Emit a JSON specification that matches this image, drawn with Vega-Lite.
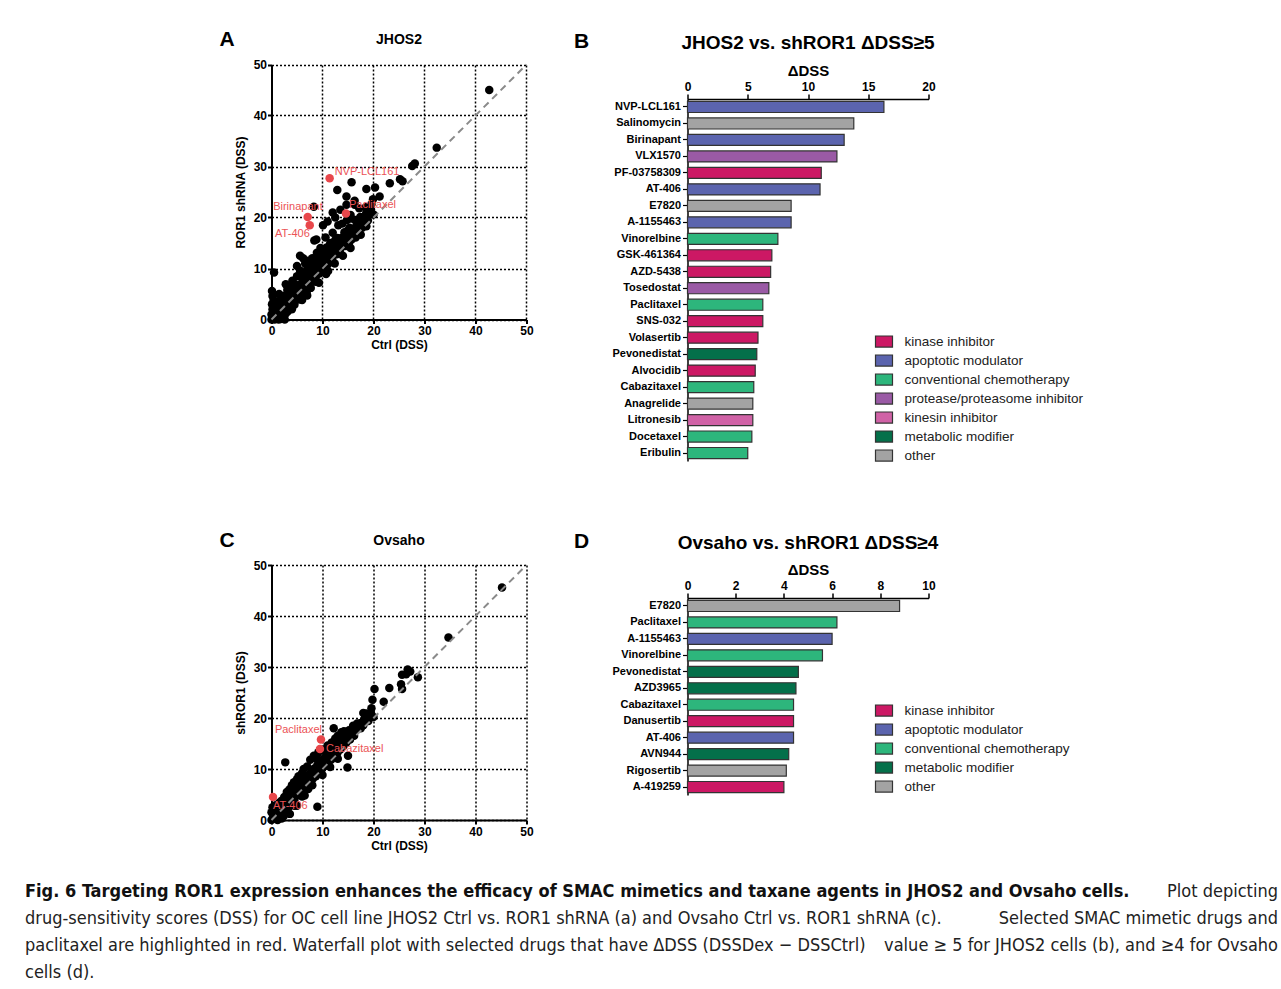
{
  "$schema": "https://vega.github.io/schema/vega-lite/v6.json",
  "background": "white",
  "padding": {"left": 25, "top": 29, "right": 0, "bottom": 0},
  "config": {"view": {"stroke": null}, "font": "Liberation Sans"},
  "datasets": {
    "jhos2": [
      {"ctrl":0,"sh":0},{"ctrl":0.3,"sh":0.5},{"ctrl":0.5,"sh":1.2},{"ctrl":0.2,"sh":2.0},{"ctrl":0.1,"sh":3.0},{"ctrl":0.4,"sh":3.8},{"ctrl":0.8,"sh":0.4},{"ctrl":1.2,"sh":0.2},{"ctrl":1.5,"sh":1.0},{"ctrl":1.0,"sh":1.8},{"ctrl":0.7,"sh":2.6},{"ctrl":1.8,"sh":0.1},{"ctrl":2.2,"sh":0.5},{"ctrl":2.0,"sh":1.6},{"ctrl":1.6,"sh":2.8},{"ctrl":1.2,"sh":3.4},{"ctrl":2.5,"sh":2.2},{"ctrl":2.8,"sh":1.2},{"ctrl":2.3,"sh":3.5},{"ctrl":3.0,"sh":3.0},{"ctrl":0.2,"sh":4.6},{"ctrl":0.0,"sh":1.0},{"ctrl":1.9,"sh":4.5},{"ctrl":2.6,"sh":0.0},{"ctrl":1.4,"sh":0.0},{"ctrl":0.1,"sh":5.6},{"ctrl":0.5,"sh":9.2},
      {"ctrl":3.3,"sh":4.2},{"ctrl":3.6,"sh":2.8},{"ctrl":3.9,"sh":5.0},{"ctrl":4.2,"sh":3.6},{"ctrl":4.4,"sh":5.8},{"ctrl":4.8,"sh":4.4},{"ctrl":4.6,"sh":6.9},{"ctrl":5.1,"sh":5.6},{"ctrl":5.4,"sh":3.9},{"ctrl":5.6,"sh":6.8},{"ctrl":5.9,"sh":5.0},{"ctrl":6.1,"sh":7.5},{"ctrl":6.4,"sh":6.0},{"ctrl":6.7,"sh":8.3},{"ctrl":6.9,"sh":5.4},{"ctrl":7.2,"sh":7.0},{"ctrl":7.5,"sh":8.8},{"ctrl":7.7,"sh":6.2},{"ctrl":3.1,"sh":5.8},{"ctrl":3.5,"sh":6.5},{"ctrl":4.1,"sh":7.6},{"ctrl":5.0,"sh":8.5},{"ctrl":5.0,"sh":10.5},{"ctrl":6.2,"sh":12.0},{"ctrl":2.8,"sh":6.9},{"ctrl":7.0,"sh":4.7},{"ctrl":4.0,"sh":2.0},{"ctrl":6.0,"sh":3.8},
      {"ctrl":8.0,"sh":7.8},{"ctrl":8.2,"sh":9.6},{"ctrl":8.5,"sh":11.0},{"ctrl":8.7,"sh":8.4},{"ctrl":9.0,"sh":10.2},{"ctrl":9.2,"sh":12.4},{"ctrl":9.4,"sh":9.0},{"ctrl":9.7,"sh":11.2},{"ctrl":10.0,"sh":13.0},{"ctrl":10.2,"sh":10.0},{"ctrl":10.5,"sh":12.0},{"ctrl":10.8,"sh":14.1},{"ctrl":11.0,"sh":10.8},{"ctrl":11.3,"sh":12.6},{"ctrl":11.6,"sh":15.0},{"ctrl":11.9,"sh":11.9},{"ctrl":12.2,"sh":13.8},{"ctrl":12.5,"sh":15.6},{"ctrl":12.8,"sh":12.8},{"ctrl":13.0,"sh":14.6},{"ctrl":8.0,"sh":12.0},{"ctrl":8.9,"sh":13.1},{"ctrl":9.6,"sh":14.0},{"ctrl":7.8,"sh":10.8},{"ctrl":11.1,"sh":9.5},{"ctrl":13.1,"sh":18.5},{"ctrl":10.1,"sh":18.5},{"ctrl":8.4,"sh":15.5},{"ctrl":10.6,"sh":16.1},{"ctrl":12.0,"sh":17.0},{"ctrl":9.3,"sh":7.2},{"ctrl":10.7,"sh":8.9},{"ctrl":12.4,"sh":11.0},
      {"ctrl":13.4,"sh":13.2},{"ctrl":13.7,"sh":16.0},{"ctrl":14.0,"sh":15.0},{"ctrl":14.3,"sh":17.1},{"ctrl":14.6,"sh":14.4},{"ctrl":15.0,"sh":16.2},{"ctrl":15.3,"sh":18.0},{"ctrl":15.7,"sh":15.7},{"ctrl":16.0,"sh":17.6},{"ctrl":16.4,"sh":19.5},{"ctrl":16.7,"sh":17.0},{"ctrl":17.0,"sh":18.8},{"ctrl":17.4,"sh":20.1},{"ctrl":17.8,"sh":18.0},{"ctrl":18.2,"sh":19.6},{"ctrl":18.6,"sh":21.0},{"ctrl":18.6,"sh":18.3},{"ctrl":19.0,"sh":20.4},{"ctrl":19.5,"sh":21.6},{"ctrl":20.0,"sh":20.6},{"ctrl":14.8,"sh":19.5},{"ctrl":13.9,"sh":18.8},{"ctrl":16.5,"sh":16.1},{"ctrl":15.5,"sh":20.5},{"ctrl":17.2,"sh":21.8},{"ctrl":16.3,"sh":22.5},{"ctrl":12.5,"sh":20.0},{"ctrl":13.5,"sh":21.5},{"ctrl":14.7,"sh":22.5},{"ctrl":15.6,"sh":19.8},{"ctrl":14.0,"sh":12.5},{"ctrl":15.5,"sh":14.0},{"ctrl":17.5,"sh":16.6},
      {"ctrl":0.6,"sh":0.0},{"ctrl":0.9,"sh":1.2},{"ctrl":1.3,"sh":2.4},{"ctrl":0.4,"sh":1.6},{"ctrl":2.9,"sh":2.2},{"ctrl":3.2,"sh":1.6},{"ctrl":3.4,"sh":3.6},{"ctrl":3.8,"sh":4.3},{"ctrl":4.3,"sh":4.8},{"ctrl":4.5,"sh":2.9},{"ctrl":4.9,"sh":5.4},{"ctrl":5.2,"sh":4.7},{"ctrl":5.3,"sh":6.3},{"ctrl":5.7,"sh":5.9},{"ctrl":6.0,"sh":6.7},{"ctrl":6.3,"sh":7.2},{"ctrl":6.5,"sh":5.2},{"ctrl":6.8,"sh":7.6},{"ctrl":7.1,"sh":6.4},{"ctrl":7.3,"sh":8.2},{"ctrl":7.6,"sh":7.6},{"ctrl":7.9,"sh":9.0},{"ctrl":8.1,"sh":8.5},{"ctrl":8.4,"sh":9.9},{"ctrl":8.6,"sh":7.4},{"ctrl":8.8,"sh":10.7},{"ctrl":9.1,"sh":9.4},{"ctrl":9.3,"sh":11.4},{"ctrl":9.5,"sh":10.1},{"ctrl":9.8,"sh":12.3},{"ctrl":10.0,"sh":11.0},{"ctrl":10.3,"sh":12.9},{"ctrl":10.4,"sh":10.6},{"ctrl":10.6,"sh":13.4},{"ctrl":10.9,"sh":11.6},{"ctrl":11.2,"sh":13.9},{"ctrl":11.4,"sh":11.2},{"ctrl":11.7,"sh":13.5},{"ctrl":12.0,"sh":12.6},{"ctrl":12.3,"sh":14.8},{"ctrl":12.6,"sh":13.9},{"ctrl":12.9,"sh":16.0},{"ctrl":13.2,"sh":14.0},{"ctrl":13.5,"sh":15.2},{"ctrl":13.8,"sh":14.2},{"ctrl":14.2,"sh":16.3},{"ctrl":14.5,"sh":15.5},{"ctrl":14.9,"sh":17.4},{"ctrl":15.2,"sh":15.0},{"ctrl":15.6,"sh":17.0},{"ctrl":16.1,"sh":16.8},{"ctrl":16.6,"sh":18.3},{"ctrl":17.1,"sh":17.6},{"ctrl":17.6,"sh":19.2},{"ctrl":18.0,"sh":19.0},{"ctrl":18.4,"sh":20.3},{"ctrl":18.9,"sh":19.4},{"ctrl":19.3,"sh":21.0},{"ctrl":7.0,"sh":9.8},{"ctrl":6.4,"sh":9.1},{"ctrl":5.8,"sh":8.4},{"ctrl":4.3,"sh":6.3},{"ctrl":3.7,"sh":5.3},{"ctrl":2.4,"sh":4.6},{"ctrl":1.5,"sh":5.0},{"ctrl":9.5,"sh":12.8},{"ctrl":11.5,"sh":14.8},{"ctrl":6.6,"sh":11.0},{"ctrl":7.2,"sh":11.5},{"ctrl":5.6,"sh":9.6},
      {"ctrl":8.3,"sh":22.1},{"ctrl":12.9,"sh":25.4},{"ctrl":15.7,"sh":26.9},{"ctrl":14.7,"sh":24.1},{"ctrl":16.3,"sh":23.3},{"ctrl":18.6,"sh":25.6},{"ctrl":20.3,"sh":25.9},{"ctrl":19.9,"sh":23.6},{"ctrl":21.2,"sh":24.1},{"ctrl":23.2,"sh":26.7},{"ctrl":25.2,"sh":27.5},{"ctrl":25.7,"sh":27.1},{"ctrl":27.6,"sh":30.1},{"ctrl":28.1,"sh":30.6},{"ctrl":32.4,"sh":33.7},{"ctrl":42.7,"sh":45.0},{"ctrl":18.5,"sh":22.0},{"ctrl":19.6,"sh":22.6},{"ctrl":11.0,"sh":19.2},{"ctrl":12.0,"sh":21.0},{"ctrl":5.6,"sh":12.5},{"ctrl":8.8,"sh":15.7},
      {"ctrl":11.4,"sh":27.7,"drug":"NVP-LCL161"},{"ctrl":7.1,"sh":20.1,"drug":"Birinapant"},{"ctrl":7.5,"sh":18.5,"drug":"AT-406"},{"ctrl":14.6,"sh":20.8,"drug":"Paclitaxel"}
    ],
    "ovsaho": [
      {"ctrl":0,"sh":0},{"ctrl":0.3,"sh":0.6},{"ctrl":0.6,"sh":1.4},{"ctrl":0.2,"sh":2.5},{"ctrl":1.0,"sh":0.8},{"ctrl":1.4,"sh":1.9},{"ctrl":1.8,"sh":1.2},{"ctrl":2.2,"sh":2.6},{"ctrl":2.0,"sh":0.3},{"ctrl":2.6,"sh":1.8},{"ctrl":3.0,"sh":3.4},{"ctrl":3.3,"sh":2.4},{"ctrl":3.6,"sh":4.3},{"ctrl":3.9,"sh":3.2},{"ctrl":4.2,"sh":5.2},{"ctrl":4.5,"sh":4.0},{"ctrl":4.8,"sh":6.0},{"ctrl":5.1,"sh":4.9},{"ctrl":5.4,"sh":6.8},{"ctrl":5.7,"sh":5.6},{"ctrl":6.0,"sh":7.4},{"ctrl":6.3,"sh":6.2},{"ctrl":6.6,"sh":8.1},{"ctrl":6.9,"sh":6.8},{"ctrl":7.2,"sh":8.8},{"ctrl":7.5,"sh":7.4},{"ctrl":7.8,"sh":9.5},{"ctrl":8.1,"sh":8.1},{"ctrl":8.4,"sh":10.1},{"ctrl":8.7,"sh":8.6},{"ctrl":9.0,"sh":10.8},{"ctrl":9.3,"sh":9.2},{"ctrl":9.6,"sh":11.5},{"ctrl":9.9,"sh":10.0},{"ctrl":10.2,"sh":12.0},{"ctrl":10.5,"sh":10.6},{"ctrl":10.8,"sh":12.8},{"ctrl":11.1,"sh":11.2},{"ctrl":11.4,"sh":13.4},{"ctrl":11.7,"sh":11.8},{"ctrl":12.0,"sh":14.0},{"ctrl":12.3,"sh":12.4},{"ctrl":12.6,"sh":14.6},{"ctrl":12.9,"sh":13.1},{"ctrl":13.2,"sh":15.3},{"ctrl":13.5,"sh":13.8},{"ctrl":13.8,"sh":16.0},{"ctrl":14.1,"sh":14.5},{"ctrl":14.4,"sh":16.6},{"ctrl":14.7,"sh":15.2},{"ctrl":15.0,"sh":17.0},{"ctrl":15.4,"sh":15.8},{"ctrl":15.8,"sh":16.9},{"ctrl":16.2,"sh":16.5},{"ctrl":16.6,"sh":17.6},{"ctrl":17.0,"sh":18.0},{"ctrl":17.5,"sh":19.0},{"ctrl":18.0,"sh":18.6},{"ctrl":18.5,"sh":20.0},{"ctrl":19.0,"sh":19.4},{"ctrl":19.5,"sh":20.6},{"ctrl":20.0,"sh":20.2},
      {"ctrl":3.0,"sh":5.5},{"ctrl":4.0,"sh":6.8},{"ctrl":5.0,"sh":8.0},{"ctrl":6.0,"sh":9.2},{"ctrl":7.0,"sh":10.5},{"ctrl":7.6,"sh":11.8},{"ctrl":8.3,"sh":12.6},{"ctrl":9.2,"sh":13.3},{"ctrl":11.0,"sh":14.6},{"ctrl":12.5,"sh":16.0},{"ctrl":13.7,"sh":17.2},{"ctrl":14.2,"sh":17.4},{"ctrl":1.5,"sh":3.4},{"ctrl":2.5,"sh":4.5},{"ctrl":0.8,"sh":2.9},{"ctrl":3.6,"sh":1.2},{"ctrl":5.0,"sh":2.8},{"ctrl":6.5,"sh":4.8},{"ctrl":8.0,"sh":6.8},{"ctrl":1.2,"sh":0.0},{"ctrl":2.4,"sh":0.8},{"ctrl":0.0,"sh":1.5},
      {"ctrl":0.9,"sh":1.8},{"ctrl":1.6,"sh":2.6},{"ctrl":2.8,"sh":2.9},{"ctrl":3.3,"sh":4.0},{"ctrl":4.1,"sh":4.6},{"ctrl":4.6,"sh":5.3},{"ctrl":5.2,"sh":6.1},{"ctrl":5.6,"sh":7.0},{"ctrl":6.2,"sh":6.9},{"ctrl":6.8,"sh":7.8},{"ctrl":7.3,"sh":8.1},{"ctrl":7.9,"sh":8.8},{"ctrl":8.5,"sh":9.3},{"ctrl":9.1,"sh":10.0},{"ctrl":9.7,"sh":10.6},{"ctrl":10.3,"sh":11.3},{"ctrl":10.9,"sh":11.9},{"ctrl":11.5,"sh":12.6},{"ctrl":12.1,"sh":13.3},{"ctrl":12.7,"sh":13.8},{"ctrl":13.3,"sh":14.5},{"ctrl":13.9,"sh":15.2},{"ctrl":14.5,"sh":15.9},{"ctrl":15.1,"sh":16.3},{"ctrl":15.7,"sh":17.3},{"ctrl":16.4,"sh":18.0},{"ctrl":17.2,"sh":18.6},{"ctrl":18.2,"sh":19.8},{"ctrl":4.4,"sh":7.4},{"ctrl":5.3,"sh":8.6},{"ctrl":6.3,"sh":10.0},{"ctrl":8.9,"sh":12.0},{"ctrl":10.5,"sh":13.6},{"ctrl":11.8,"sh":15.2},{"ctrl":13.0,"sh":16.5},{"ctrl":2.0,"sh":3.8},{"ctrl":3.5,"sh":6.0},{"ctrl":1.0,"sh":0.2},{"ctrl":4.5,"sh":2.8},{"ctrl":6.0,"sh":4.6},{"ctrl":7.2,"sh":6.1},{"ctrl":10.0,"sh":8.8},{"ctrl":11.5,"sh":10.4},{"ctrl":13.0,"sh":12.0},
      {"ctrl":9.0,"sh":2.6},{"ctrl":0.7,"sh":2.4},{"ctrl":12.2,"sh":18.0},{"ctrl":16.8,"sh":18.9},{"ctrl":18.6,"sh":20.9},{"ctrl":19.6,"sh":21.9},{"ctrl":19.8,"sh":23.6},{"ctrl":22.0,"sh":23.2},{"ctrl":20.2,"sh":25.7},{"ctrl":23.1,"sh":25.9},{"ctrl":25.4,"sh":26.6},{"ctrl":25.6,"sh":25.7},{"ctrl":25.6,"sh":28.5},{"ctrl":26.4,"sh":28.6},{"ctrl":26.7,"sh":29.5},{"ctrl":27.2,"sh":29.1},{"ctrl":28.7,"sh":28.0},{"ctrl":34.7,"sh":35.8},{"ctrl":45.2,"sh":45.6},{"ctrl":15.0,"sh":12.6},{"ctrl":14.9,"sh":10.3},{"ctrl":2.7,"sh":11.3},{"ctrl":17.5,"sh":18.0},{"ctrl":18.0,"sh":21.0},{"ctrl":19.5,"sh":21.0},{"ctrl":16.0,"sh":18.5},{"ctrl":15.2,"sh":17.6},{"ctrl":14.0,"sh":17.0},{"ctrl":10.0,"sh":13.8},
      {"ctrl":9.7,"sh":15.8,"drug":"Paclitaxel"},{"ctrl":9.5,"sh":13.9,"drug":"Cabazitaxel"},{"ctrl":0.3,"sh":4.5,"drug":"AT-406"}
    ],
    "jhos2Bars": [
      {"drug":"NVP-LCL161","dss":16.3,"class":"apoptotic modulator"},
      {"drug":"Salinomycin","dss":13.8,"class":"other"},
      {"drug":"Birinapant","dss":13.0,"class":"apoptotic modulator"},
      {"drug":"VLX1570","dss":12.4,"class":"protease/proteasome inhibitor"},
      {"drug":"PF-03758309","dss":11.1,"class":"kinase inhibitor"},
      {"drug":"AT-406","dss":11.0,"class":"apoptotic modulator"},
      {"drug":"E7820","dss":8.6,"class":"other"},
      {"drug":"A-1155463","dss":8.6,"class":"apoptotic modulator"},
      {"drug":"Vinorelbine","dss":7.5,"class":"conventional chemotherapy"},
      {"drug":"GSK-461364","dss":7.0,"class":"kinase inhibitor"},
      {"drug":"AZD-5438","dss":6.9,"class":"kinase inhibitor"},
      {"drug":"Tosedostat","dss":6.75,"class":"protease/proteasome inhibitor"},
      {"drug":"Paclitaxel","dss":6.25,"class":"conventional chemotherapy"},
      {"drug":"SNS-032","dss":6.25,"class":"kinase inhibitor"},
      {"drug":"Volasertib","dss":5.85,"class":"kinase inhibitor"},
      {"drug":"Pevonedistat","dss":5.75,"class":"metabolic modifier"},
      {"drug":"Alvocidib","dss":5.62,"class":"kinase inhibitor"},
      {"drug":"Cabazitaxel","dss":5.5,"class":"conventional chemotherapy"},
      {"drug":"Anagrelide","dss":5.42,"class":"other"},
      {"drug":"Litronesib","dss":5.42,"class":"kinesin inhibitor"},
      {"drug":"Docetaxel","dss":5.34,"class":"conventional chemotherapy"},
      {"drug":"Eribulin","dss":5.0,"class":"conventional chemotherapy"}
    ],
    "ovsahoBars": [
      {"drug":"E7820","dss":8.8,"class":"other"},
      {"drug":"Paclitaxel","dss":6.2,"class":"conventional chemotherapy"},
      {"drug":"A-1155463","dss":6.0,"class":"apoptotic modulator"},
      {"drug":"Vinorelbine","dss":5.6,"class":"conventional chemotherapy"},
      {"drug":"Pevonedistat","dss":4.6,"class":"metabolic modifier"},
      {"drug":"AZD3965","dss":4.5,"class":"metabolic modifier"},
      {"drug":"Cabazitaxel","dss":4.4,"class":"conventional chemotherapy"},
      {"drug":"Danusertib","dss":4.4,"class":"kinase inhibitor"},
      {"drug":"AT-406","dss":4.4,"class":"apoptotic modulator"},
      {"drug":"AVN944","dss":4.2,"class":"metabolic modifier"},
      {"drug":"Rigosertib","dss":4.1,"class":"other"},
      {"drug":"A-419259","dss":4.0,"class":"kinase inhibitor"}
    ],
    "caption": [
      {"line":1,"side":"left","weight":"bold","text":"Fig. 6 Targeting ROR1 expression enhances the efficacy of SMAC mimetics and taxane agents in JHOS2 and Ovsaho cells."},
      {"line":1,"side":"right","weight":"normal","text":"Plot depicting"},
      {"line":2,"side":"left","weight":"normal","text":"drug-sensitivity scores (DSS) for OC cell line JHOS2 Ctrl vs. ROR1 shRNA (a) and Ovsaho Ctrl vs. ROR1 shRNA (c)."},
      {"line":2,"side":"right","weight":"normal","text":"Selected SMAC mimetic drugs and"},
      {"line":3,"side":"left","weight":"normal","text":"paclitaxel are highlighted in red. Waterfall plot with selected drugs that have ΔDSS (DSSDex − DSSCtrl)"},
      {"line":3,"side":"right","weight":"normal","text":"value ≥ 5 for JHOS2 cells (b), and ≥4 for Ovsaho"},
      {"line":4,"side":"left","weight":"normal","text":"cells (d)."}
    ]
  },
  "center": true,
  "spacing": 27,
  "resolve": {"scale": {"x": "independent", "y": "independent", "color": "independent"}, "legend": {"color": "independent"}},
  "vconcat": [
    {
      "spacing": 40,
      "resolve": {"scale": {"x": "independent", "y": "independent", "color": "independent"}, "legend": {"color": "independent"}},
      "hconcat": [
        {
          "spacing": 175,
          "resolve": {"scale": {"x": "independent", "y": "independent", "color": "independent"}, "legend": {"color": "independent"}},
          "vconcat": [
            {
              "width": 255, "height": 220.5,
              "title": {"text": "JHOS2", "fontSize": 14, "fontWeight": "bold", "color": "#000", "anchor": "middle", "frame": "group", "offset": -18},
              "data": {"name": "jhos2"},
              "layer": [
                {"data": {"values": [{}]}, "mark": {"type": "rule", "color": "#000", "strokeDash": [2, 2], "strokeWidth": 1.5}, "encoding": {"x": {"datum": 10, "type": "quantitative"}, "y": {"datum": 0, "type": "quantitative"}, "y2": {"datum": 50}}},
                {"data": {"values": [{}]}, "mark": {"type": "rule", "color": "#000", "strokeDash": [2, 2], "strokeWidth": 1.5}, "encoding": {"x": {"datum": 20, "type": "quantitative"}, "y": {"datum": 0, "type": "quantitative"}, "y2": {"datum": 50}}},
                {"data": {"values": [{}]}, "mark": {"type": "rule", "color": "#000", "strokeDash": [2, 2], "strokeWidth": 1.5}, "encoding": {"x": {"datum": 30, "type": "quantitative"}, "y": {"datum": 0, "type": "quantitative"}, "y2": {"datum": 50}}},
                {"data": {"values": [{}]}, "mark": {"type": "rule", "color": "#000", "strokeDash": [2, 2], "strokeWidth": 1.5}, "encoding": {"x": {"datum": 40, "type": "quantitative"}, "y": {"datum": 0, "type": "quantitative"}, "y2": {"datum": 50}}},
                {"data": {"values": [{}]}, "mark": {"type": "rule", "color": "#000", "strokeDash": [2, 2], "strokeWidth": 1.5}, "encoding": {"x": {"datum": 50, "type": "quantitative"}, "y": {"datum": 0, "type": "quantitative"}, "y2": {"datum": 50}}},
                {
                  "transform": [{"filter": "!datum.drug"}],
                  "mark": {"type": "circle", "size": 72, "color": "#000", "opacity": 1},
                  "encoding": {
                    "x": {"field": "ctrl", "type": "quantitative", "scale": {"domain": [0, 50], "nice": false},
                      "axis": {"title": "Ctrl (DSS)", "values": [0,10,20,30,40,50], "grid": false, "domainColor": "#000", "domainWidth": 2, "tickColor": "#000", "tickWidth": 2, "tickSize": 4, "labelFontWeight": "bold", "labelFontSize": 12, "labelColor": "#000", "labelPadding": 2, "labelFlush": false, "titleFontSize": 12, "titleFontWeight": "bold", "titleColor": "#000", "titlePadding": 3}},
                    "y": {"field": "sh", "type": "quantitative", "scale": {"domain": [0, 50], "nice": false, "range": [220.5, -34.5]},
                      "axis": {"title": "ROR1 shRNA (DSS)", "values": [0,10,20,30,40,50], "grid": true, "gridColor": "#000", "gridDash": [2,2], "gridWidth": 1.5, "gridOpacity": 1, "domainColor": "#000", "domainWidth": 2, "tickColor": "#000", "tickWidth": 2, "tickSize": 4, "labelFontWeight": "bold", "labelFontSize": 12, "labelColor": "#000", "labelPadding": 1, "labelFlush": false, "titleFontSize": 12, "titleFontWeight": "bold", "titleColor": "#000", "titlePadding": 6}}
                  }
                },
                {
                  "data": {"values": [{}]},
                  "mark": {"type": "rule", "color": "#8a8a8a", "strokeDash": [7, 5], "strokeWidth": 2},
                  "encoding": {"x": {"datum": 0, "type": "quantitative"}, "y": {"datum": 0, "type": "quantitative"}, "x2": {"datum": 50}, "y2": {"datum": 50}}
                },
                {
                  "transform": [{"filter": "datum.drug"}],
                  "mark": {"type": "circle", "size": 72, "color": "#e8474b", "opacity": 1},
                  "encoding": {"x": {"field": "ctrl", "type": "quantitative"}, "y": {"field": "sh", "type": "quantitative"}}
                },
                {
                  "transform": [{"filter": "datum.drug === 'NVP-LCL161'"}],
                  "mark": {"type": "text", "color": "#eb5356", "fontSize": 11, "align": "left", "baseline": "middle", "dx": 5, "dy": -6},
                  "encoding": {"x": {"field": "ctrl", "type": "quantitative"}, "y": {"field": "sh", "type": "quantitative"}, "text": {"field": "drug"}}
                },
                {
                  "transform": [{"filter": "datum.drug === 'Birinapant'"}],
                  "mark": {"type": "text", "color": "#eb5356", "fontSize": 11, "align": "right", "baseline": "middle", "dx": 15, "dy": -10},
                  "encoding": {"x": {"field": "ctrl", "type": "quantitative"}, "y": {"field": "sh", "type": "quantitative"}, "text": {"field": "drug"}}
                },
                {
                  "transform": [{"filter": "datum.drug === 'AT-406'"}],
                  "mark": {"type": "text", "color": "#eb5356", "fontSize": 11, "align": "right", "baseline": "middle", "dx": 0, "dy": 9},
                  "encoding": {"x": {"field": "ctrl", "type": "quantitative"}, "y": {"field": "sh", "type": "quantitative"}, "text": {"field": "drug"}}
                },
                {
                  "transform": [{"filter": "datum.drug === 'Paclitaxel'"}],
                  "mark": {"type": "text", "color": "#eb5356", "fontSize": 11, "align": "left", "baseline": "middle", "dx": 3, "dy": -8},
                  "encoding": {"x": {"field": "ctrl", "type": "quantitative"}, "y": {"field": "sh", "type": "quantitative"}, "text": {"field": "drug"}}
                },
                {
                  "data": {"values": [{}]},
                  "mark": {"type": "text", "text": "A", "fontSize": 21, "fontWeight": "bold", "color": "#000", "align": "center", "baseline": "middle"},
                  "encoding": {"x": {"datum": -8.7, "type": "quantitative"}, "y": {"datum": 54.8, "type": "quantitative"}}
                }
              ]
            },
            {
              "width": 255, "height": 255,
              "title": {"text": "Ovsaho", "fontSize": 14, "fontWeight": "bold", "color": "#000", "anchor": "middle", "frame": "group", "offset": -18},
              "data": {"name": "ovsaho"},
              "layer": [
                {
                  "transform": [{"filter": "!datum.drug"}],
                  "mark": {"type": "circle", "size": 72, "color": "#000", "opacity": 1},
                  "encoding": {
                    "x": {"field": "ctrl", "type": "quantitative", "scale": {"domain": [0, 50], "nice": false},
                      "axis": {"title": "Ctrl (DSS)", "values": [0,10,20,30,40,50], "grid": true, "gridColor": "#000", "gridDash": [2,2], "gridWidth": 1.5, "gridOpacity": 1, "domainColor": "#000", "domainWidth": 2, "tickColor": "#000", "tickWidth": 2, "tickSize": 4, "labelFontWeight": "bold", "labelFontSize": 12, "labelColor": "#000", "labelPadding": 2, "labelFlush": false, "titleFontSize": 12, "titleFontWeight": "bold", "titleColor": "#000", "titlePadding": 3}},
                    "y": {"field": "sh", "type": "quantitative", "scale": {"domain": [0, 50], "nice": false},
                      "axis": {"title": "shROR1 (DSS)", "values": [0,10,20,30,40,50], "grid": true, "gridColor": "#000", "gridDash": [2,2], "gridWidth": 1.5, "gridOpacity": 1, "domainColor": "#000", "domainWidth": 2, "tickColor": "#000", "tickWidth": 2, "tickSize": 4, "labelFontWeight": "bold", "labelFontSize": 12, "labelColor": "#000", "labelPadding": 1, "labelFlush": false, "titleFontSize": 12, "titleFontWeight": "bold", "titleColor": "#000", "titlePadding": 6}}
                  }
                },
                {
                  "data": {"values": [{}]},
                  "mark": {"type": "rule", "color": "#8a8a8a", "strokeDash": [7, 5], "strokeWidth": 2},
                  "encoding": {"x": {"datum": 0, "type": "quantitative"}, "y": {"datum": 0, "type": "quantitative"}, "x2": {"datum": 50}, "y2": {"datum": 50}}
                },
                {
                  "transform": [{"filter": "datum.drug"}],
                  "mark": {"type": "circle", "size": 72, "color": "#e8474b", "opacity": 1},
                  "encoding": {"x": {"field": "ctrl", "type": "quantitative"}, "y": {"field": "sh", "type": "quantitative"}}
                },
                {
                  "transform": [{"filter": "datum.drug === 'Paclitaxel'"}],
                  "mark": {"type": "text", "color": "#eb5356", "fontSize": 11, "align": "right", "baseline": "middle", "dx": 1, "dy": -9},
                  "encoding": {"x": {"field": "ctrl", "type": "quantitative"}, "y": {"field": "sh", "type": "quantitative"}, "text": {"field": "drug"}}
                },
                {
                  "transform": [{"filter": "datum.drug === 'Cabazitaxel'"}],
                  "mark": {"type": "text", "color": "#eb5356", "fontSize": 11, "align": "left", "baseline": "middle", "dx": 6, "dy": 0},
                  "encoding": {"x": {"field": "ctrl", "type": "quantitative"}, "y": {"field": "sh", "type": "quantitative"}, "text": {"field": "drug"}}
                },
                {
                  "transform": [{"filter": "datum.drug === 'AT-406'"}],
                  "mark": {"type": "text", "color": "#eb5356", "fontSize": 11, "align": "left", "baseline": "middle", "dx": 0, "dy": 9},
                  "encoding": {"x": {"field": "ctrl", "type": "quantitative"}, "y": {"field": "sh", "type": "quantitative"}, "text": {"field": "drug"}}
                },
                {
                  "data": {"values": [{}]},
                  "mark": {"type": "text", "text": "C", "fontSize": 21, "fontWeight": "bold", "color": "#000", "align": "center", "baseline": "middle"},
                  "encoding": {"x": {"datum": -8.7, "type": "quantitative"}, "y": {"datum": 54.8, "type": "quantitative"}}
                }
              ]
            }
          ]
        },
        {
          "spacing": 67,
          "resolve": {"scale": {"x": "independent", "y": "independent", "color": "independent"}, "legend": {"color": "independent"}},
          "vconcat": [
            {
              "width": 241, "height": 362,
              "title": {"text": "JHOS2 vs. shROR1 ΔDSS≥5", "fontSize": 19, "fontWeight": "bold", "color": "#000", "anchor": "middle", "frame": "group", "offset": -22},
              "resolve": {"scale": {"y": "independent"}},
              "layer": [
                {
                  "data": {"name": "jhos2Bars"},
                  "mark": {"type": "bar", "stroke": "#333", "strokeWidth": 1.2},
                  "encoding": {
                    "y": {"field": "drug", "type": "nominal", "sort": null, "scale": {"paddingInner": 0.33, "paddingOuter": 0.15},
                      "axis": {"title": null, "labelFontWeight": "bold", "labelFontSize": 11, "labelColor": "#000", "domainColor": "#000", "domainWidth": 1.5, "tickColor": "#000", "tickWidth": 1.2, "tickSize": 5, "labelPadding": 2}},
                    "x": {"field": "dss", "type": "quantitative", "scale": {"domain": [0, 20], "nice": false},
                      "axis": {"orient": "top", "title": "ΔDSS", "values": [0,5,10,15,20], "grid": false, "domainColor": "#000", "domainWidth": 1.5, "tickColor": "#000", "tickWidth": 1.5, "tickSize": 5, "labelFontWeight": "bold", "labelFontSize": 12, "labelColor": "#000", "labelPadding": 1, "labelFlush": false, "titleFontSize": 15, "titleFontWeight": "bold", "titleColor": "#000", "titlePadding": 2}},
                    "color": {"field": "class", "type": "nominal",
                      "scale": {"domain": ["kinase inhibitor", "apoptotic modulator", "conventional chemotherapy", "protease/proteasome inhibitor", "kinesin inhibitor", "metabolic modifier", "other"],
                                "range": ["#cc1864", "#5b64ae", "#2db67c", "#9a5aa5", "#d062a6", "#04704a", "#a3a3a3"]},
                      "legend": {"title": null, "orient": "none", "legendX": 187, "legendY": 233, "symbolType": "M-1,-0.65L1,-0.65L1,0.65L-1,0.65Z", "symbolSize": 289, "symbolStrokeColor": "#333", "symbolStrokeWidth": 1.2, "symbolOpacity": 1, "labelFontSize": 13.5, "labelColor": "#222", "labelOffset": 11, "labelLimit": 400, "rowPadding": 1}}
                  }
                },
                {
                  "data": {"values": [{}]},
                  "mark": {"type": "text", "text": "B", "fontSize": 21, "fontWeight": "bold", "color": "#000", "align": "center", "baseline": "middle"},
                  "encoding": {"x": {"datum": -8.8, "type": "quantitative"}, "y": {"datum": 1.158, "type": "quantitative", "scale": {"domain": [0, 1]}, "axis": null}}
                }
              ]
            },
            {
              "width": 241, "height": 197,
              "title": {"text": "Ovsaho vs. shROR1 ΔDSS≥4", "fontSize": 19, "fontWeight": "bold", "color": "#000", "anchor": "middle", "frame": "group", "offset": -22},
              "resolve": {"scale": {"y": "independent"}},
              "layer": [
                {
                  "data": {"name": "ovsahoBars"},
                  "mark": {"type": "bar", "stroke": "#333", "strokeWidth": 1.2},
                  "encoding": {
                    "y": {"field": "drug", "type": "nominal", "sort": null, "scale": {"paddingInner": 0.33, "paddingOuter": 0.15},
                      "axis": {"title": null, "labelFontWeight": "bold", "labelFontSize": 11, "labelColor": "#000", "domainColor": "#000", "domainWidth": 1.5, "tickColor": "#000", "tickWidth": 1.2, "tickSize": 5, "labelPadding": 2}},
                    "x": {"field": "dss", "type": "quantitative", "scale": {"domain": [0, 10], "nice": false},
                      "axis": {"orient": "top", "title": "ΔDSS", "values": [0,2,4,6,8,10], "grid": false, "domainColor": "#000", "domainWidth": 1.5, "tickColor": "#000", "tickWidth": 1.5, "tickSize": 5, "labelFontWeight": "bold", "labelFontSize": 12, "labelColor": "#000", "labelPadding": 1, "labelFlush": false, "titleFontSize": 15, "titleFontWeight": "bold", "titleColor": "#000", "titlePadding": 2}},
                    "color": {"field": "class", "type": "nominal",
                      "scale": {"domain": ["kinase inhibitor", "apoptotic modulator", "conventional chemotherapy", "metabolic modifier", "other"],
                                "range": ["#cc1864", "#5b64ae", "#2db67c", "#04704a", "#a3a3a3"]},
                      "legend": {"title": null, "orient": "none", "legendX": 187, "legendY": 103, "symbolType": "M-1,-0.65L1,-0.65L1,0.65L-1,0.65Z", "symbolSize": 289, "symbolStrokeColor": "#333", "symbolStrokeWidth": 1.2, "symbolOpacity": 1, "labelFontSize": 13.5, "labelColor": "#222", "labelOffset": 11, "labelLimit": 400, "rowPadding": 1}}
                  }
                },
                {
                  "data": {"values": [{}]},
                  "mark": {"type": "text", "text": "D", "fontSize": 21, "fontWeight": "bold", "color": "#000", "align": "center", "baseline": "middle"},
                  "encoding": {"x": {"datum": -4.4, "type": "quantitative"}, "y": {"datum": 1.284, "type": "quantitative", "scale": {"domain": [0, 1]}, "axis": null}}
                }
              ]
            }
          ]
        }
      ]
    },
    {
      "width": 1305, "height": 108,
      "data": {"name": "caption"},
      "encoding": {
        "y": {"field": "line", "type": "ordinal", "axis": null, "scale": {"paddingInner": 0, "paddingOuter": 0}},
        "x": {"field": "side", "type": "nominal", "axis": null, "scale": {"type": "point", "domain": ["left", "right"], "padding": 0.02075, "align": 0}},
        "text": {"field": "text"}
      },
      "layer": [
        {"transform": [{"filter": "datum.weight === 'bold'"}], "mark": {"type": "text", "font": "DejaVu Sans Condensed, sans-serif", "fontSize": 18, "fontWeight": "bold", "color": "#111", "align": "left", "baseline": "middle"}},
        {"transform": [{"filter": "datum.weight !== 'bold' && datum.side === 'left'"}], "mark": {"type": "text", "font": "DejaVu Sans Condensed, sans-serif", "fontSize": 18, "color": "#222", "align": "left", "baseline": "middle"}},
        {"transform": [{"filter": "datum.side === 'right'"}], "mark": {"type": "text", "font": "DejaVu Sans Condensed, sans-serif", "fontSize": 18, "color": "#222", "align": "right", "baseline": "middle"}}
      ]
    }
  ]
}
